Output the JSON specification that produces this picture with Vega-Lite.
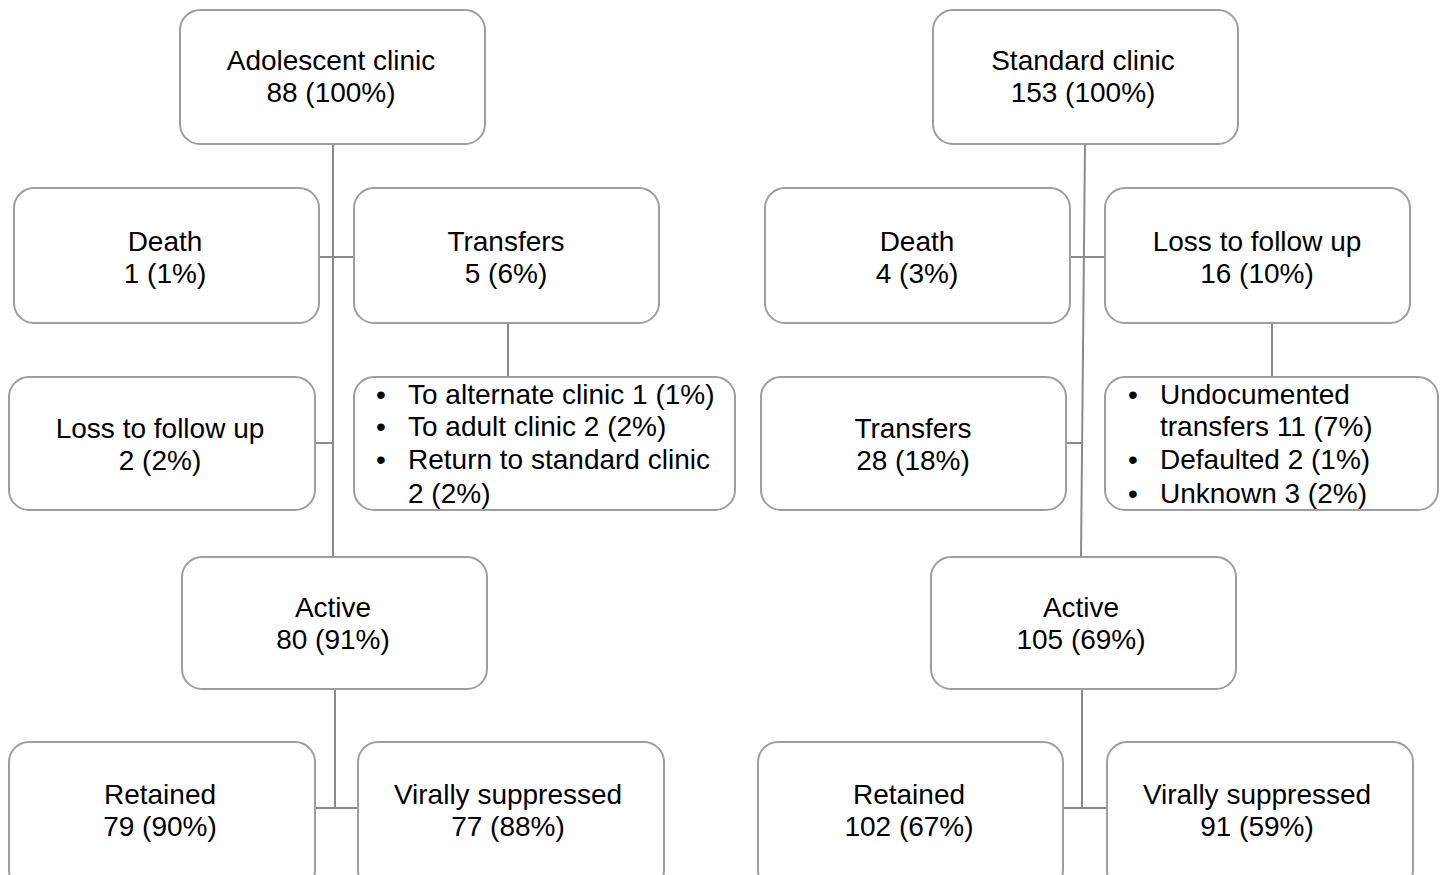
{
  "$schema": "https://vega.github.io/schema/vega-lite/v6.json",
  "autosize": {"type": "fit", "contains": "padding"},
  "width": 1442,
  "height": 875,
  "padding": 0,
  "background": "white",
  "config": {"view": {"stroke": null}},
  "datasets": {
    "boxes": [
      {"id": "a_top", "x1": 180, "x2": 485, "y1": 10, "y2": 144},
      {"id": "a_death", "x1": 14, "x2": 319, "y1": 188, "y2": 323},
      {"id": "a_trans", "x1": 354, "x2": 659, "y1": 188, "y2": 323},
      {"id": "a_loss", "x1": 9, "x2": 315, "y1": 377, "y2": 510},
      {"id": "a_detail", "x1": 354, "x2": 735, "y1": 377, "y2": 510},
      {"id": "a_active", "x1": 182, "x2": 487, "y1": 557, "y2": 689},
      {"id": "a_ret", "x1": 9, "x2": 315, "y1": 742, "y2": 890},
      {"id": "a_vs", "x1": 358, "x2": 664, "y1": 742, "y2": 890},
      {"id": "s_top", "x1": 933, "x2": 1238, "y1": 10, "y2": 144},
      {"id": "s_death", "x1": 765, "x2": 1070, "y1": 188, "y2": 323},
      {"id": "s_loss", "x1": 1105, "x2": 1410, "y1": 188, "y2": 323},
      {"id": "s_trans", "x1": 761, "x2": 1066, "y1": 377, "y2": 510},
      {"id": "s_detail", "x1": 1105, "x2": 1438, "y1": 377, "y2": 510},
      {"id": "s_active", "x1": 931, "x2": 1236, "y1": 557, "y2": 689},
      {"id": "s_ret", "x1": 758, "x2": 1063, "y1": 742, "y2": 890},
      {"id": "s_vs", "x1": 1107, "x2": 1413, "y1": 742, "y2": 890}
    ],
    "links": [
      {"x1": 333, "y1": 144, "x2": 333, "y2": 557},
      {"x1": 319, "y1": 257, "x2": 354, "y2": 257},
      {"x1": 315, "y1": 443, "x2": 333, "y2": 443},
      {"x1": 508, "y1": 323, "x2": 508, "y2": 377},
      {"x1": 335, "y1": 689, "x2": 335, "y2": 808},
      {"x1": 315, "y1": 808, "x2": 358, "y2": 808},
      {"x1": 1085, "y1": 144, "x2": 1081, "y2": 557},
      {"x1": 1070, "y1": 257, "x2": 1105, "y2": 257},
      {"x1": 1066, "y1": 443, "x2": 1083, "y2": 443},
      {"x1": 1272, "y1": 323, "x2": 1272, "y2": 377},
      {"x1": 1082, "y1": 689, "x2": 1082, "y2": 808},
      {"x1": 1063, "y1": 808, "x2": 1107, "y2": 808}
    ],
    "labels": [
      {"x": 331, "y": 70, "align": "center", "text": "Adolescent clinic"},
      {"x": 331, "y": 102, "align": "center", "text": "88 (100%)"},
      {"x": 165, "y": 251, "align": "center", "text": "Death"},
      {"x": 165, "y": 283, "align": "center", "text": "1 (1%)"},
      {"x": 506, "y": 251, "align": "center", "text": "Transfers"},
      {"x": 506, "y": 283, "align": "center", "text": "5 (6%)"},
      {"x": 160, "y": 438, "align": "center", "text": "Loss to follow up"},
      {"x": 160, "y": 470, "align": "center", "text": "2 (2%)"},
      {"x": 333, "y": 617, "align": "center", "text": "Active"},
      {"x": 333, "y": 649, "align": "center", "text": "80 (91%)"},
      {"x": 160, "y": 804, "align": "center", "text": "Retained"},
      {"x": 160, "y": 836, "align": "center", "text": "79 (90%)"},
      {"x": 508, "y": 804, "align": "center", "text": "Virally suppressed"},
      {"x": 508, "y": 836, "align": "center", "text": "77 (88%)"},
      {"x": 381, "y": 404, "align": "center", "text": "•"},
      {"x": 408, "y": 404, "align": "left", "text": "To alternate clinic 1 (1%)"},
      {"x": 381, "y": 436, "align": "center", "text": "•"},
      {"x": 408, "y": 436, "align": "left", "text": "To adult clinic 2 (2%)"},
      {"x": 381, "y": 469, "align": "center", "text": "•"},
      {"x": 408, "y": 469, "align": "left", "text": "Return to standard clinic"},
      {"x": 408, "y": 503, "align": "left", "text": "2 (2%)"},
      {"x": 1083, "y": 70, "align": "center", "text": "Standard clinic"},
      {"x": 1083, "y": 102, "align": "center", "text": "153 (100%)"},
      {"x": 917, "y": 251, "align": "center", "text": "Death"},
      {"x": 917, "y": 283, "align": "center", "text": "4 (3%)"},
      {"x": 1257, "y": 251, "align": "center", "text": "Loss to follow up"},
      {"x": 1257, "y": 283, "align": "center", "text": "16 (10%)"},
      {"x": 913, "y": 438, "align": "center", "text": "Transfers"},
      {"x": 913, "y": 470, "align": "center", "text": "28 (18%)"},
      {"x": 1081, "y": 617, "align": "center", "text": "Active"},
      {"x": 1081, "y": 649, "align": "center", "text": "105 (69%)"},
      {"x": 909, "y": 804, "align": "center", "text": "Retained"},
      {"x": 909, "y": 836, "align": "center", "text": "102 (67%)"},
      {"x": 1257, "y": 804, "align": "center", "text": "Virally suppressed"},
      {"x": 1257, "y": 836, "align": "center", "text": "91 (59%)"},
      {"x": 1133, "y": 404, "align": "center", "text": "•"},
      {"x": 1160, "y": 404, "align": "left", "text": "Undocumented"},
      {"x": 1160, "y": 436, "align": "left", "text": "transfers 11 (7%)"},
      {"x": 1133, "y": 469, "align": "center", "text": "•"},
      {"x": 1160, "y": 469, "align": "left", "text": "Defaulted 2 (1%)"},
      {"x": 1133, "y": 503, "align": "center", "text": "•"},
      {"x": 1160, "y": 503, "align": "left", "text": "Unknown 3 (2%)"}
    ]
  },
  "layer": [
    {
      "data": {"name": "links"},
      "mark": {"type": "rule", "stroke": "#8a8a8a", "strokeWidth": 2},
      "encoding": {
        "x": {"field": "x1", "type": "quantitative", "scale": {"domain": [0, 1442], "nice": false, "zero": false}, "axis": null},
        "x2": {"field": "x2"},
        "y": {"field": "y1", "type": "quantitative", "scale": {"domain": [0, 875], "nice": false, "zero": false, "reverse": true}, "axis": null},
        "y2": {"field": "y2"}
      }
    },
    {
      "data": {"name": "boxes"},
      "mark": {"type": "rect", "fill": "white", "stroke": "#9e9e9e", "strokeWidth": 2, "cornerRadius": 20, "clip": true},
      "encoding": {
        "x": {"field": "x1", "type": "quantitative", "scale": {"domain": [0, 1442], "nice": false, "zero": false}, "axis": null},
        "x2": {"field": "x2"},
        "y": {"field": "y1", "type": "quantitative", "scale": {"domain": [0, 875], "nice": false, "zero": false, "reverse": true}, "axis": null},
        "y2": {"field": "y2"}
      }
    },
    {
      "data": {"name": "labels"},
      "transform": [{"filter": "datum.align === 'center'"}],
      "mark": {"type": "text", "font": "Liberation Sans", "fontSize": 28, "color": "black", "align": "center", "baseline": "alphabetic"},
      "encoding": {
        "x": {"field": "x", "type": "quantitative", "scale": {"domain": [0, 1442], "nice": false, "zero": false}, "axis": null},
        "y": {"field": "y", "type": "quantitative", "scale": {"domain": [0, 875], "nice": false, "zero": false, "reverse": true}, "axis": null},
        "text": {"field": "text"}
      }
    },
    {
      "data": {"name": "labels"},
      "transform": [{"filter": "datum.align === 'left'"}],
      "mark": {"type": "text", "font": "Liberation Sans", "fontSize": 28, "color": "black", "align": "left", "baseline": "alphabetic"},
      "encoding": {
        "x": {"field": "x", "type": "quantitative", "scale": {"domain": [0, 1442], "nice": false, "zero": false}, "axis": null},
        "y": {"field": "y", "type": "quantitative", "scale": {"domain": [0, 875], "nice": false, "zero": false, "reverse": true}, "axis": null},
        "text": {"field": "text"}
      }
    }
  ]
}
